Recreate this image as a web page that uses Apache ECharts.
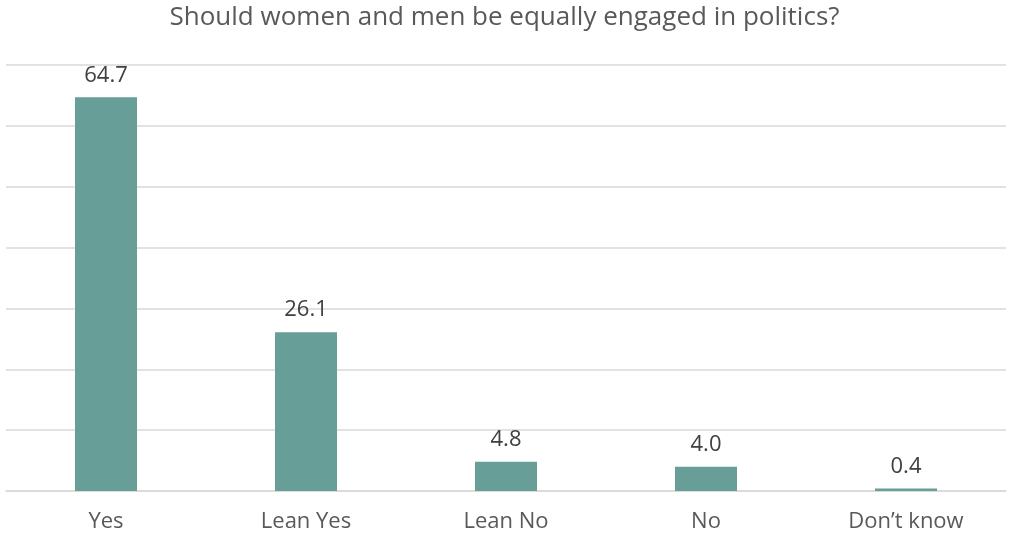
<!DOCTYPE html>
<html>
<head>
<meta charset="utf-8">
<script src="https://cdn.jsdelivr.net/npm/echarts@6/dist/echarts.min.js"></script>
<style>
html,body{margin:0;padding:0;background:#fff;}
#chart{width:1009px;height:535px;}
</style>
</head>
<body>
<div id="chart"></div>
<script>
const titleText = 'Should women and men be equally engaged in politics?';
const categories = ['Yes', 'Lean Yes', 'Lean No', 'No', 'Don\u2019t know'];
const values = [64.7, 26.1, 4.8, 4.0, 0.4];

const FONT = '"Open Sans", "Noto Sans", sans-serif';
const chart = echarts.init(document.getElementById('chart'));
chart.setOption({
  animation: false,
  title: {
    text: titleText,
    left: 'center',
    top: 0,
    textStyle: { fontFamily: FONT, fontSize: 26, fontWeight: 'normal', color: '#595959' }
  },
  grid: { left: 6, right: 3, top: 65, bottom: 44 },
  xAxis: {
    type: 'category',
    data: categories,
    axisLine: { show: true, lineStyle: { color: '#d9d9d9', width: 1.5 } },
    axisTick: { show: false },
    axisLabel: { fontFamily: FONT, fontSize: 22, color: '#595959', margin: 20 }
  },
  yAxis: {
    type: 'value',
    min: 0,
    max: 70,
    interval: 10,
    axisLabel: { show: false },
    axisLine: { show: false },
    axisTick: { show: false },
    splitLine: { lineStyle: { color: '#d9d9d9', width: 1.5 } }
  },
  series: [{
    type: 'bar',
    data: values,
    barWidth: 62,
    itemStyle: { color: '#679e97' },
    label: {
      show: true,
      position: 'top',
      distance: 11,
      formatter: p => p.value.toFixed(1),
      fontFamily: FONT,
      fontSize: 22,
      color: '#404040'
    }
  }]
});
</script>
</body>
</html>
